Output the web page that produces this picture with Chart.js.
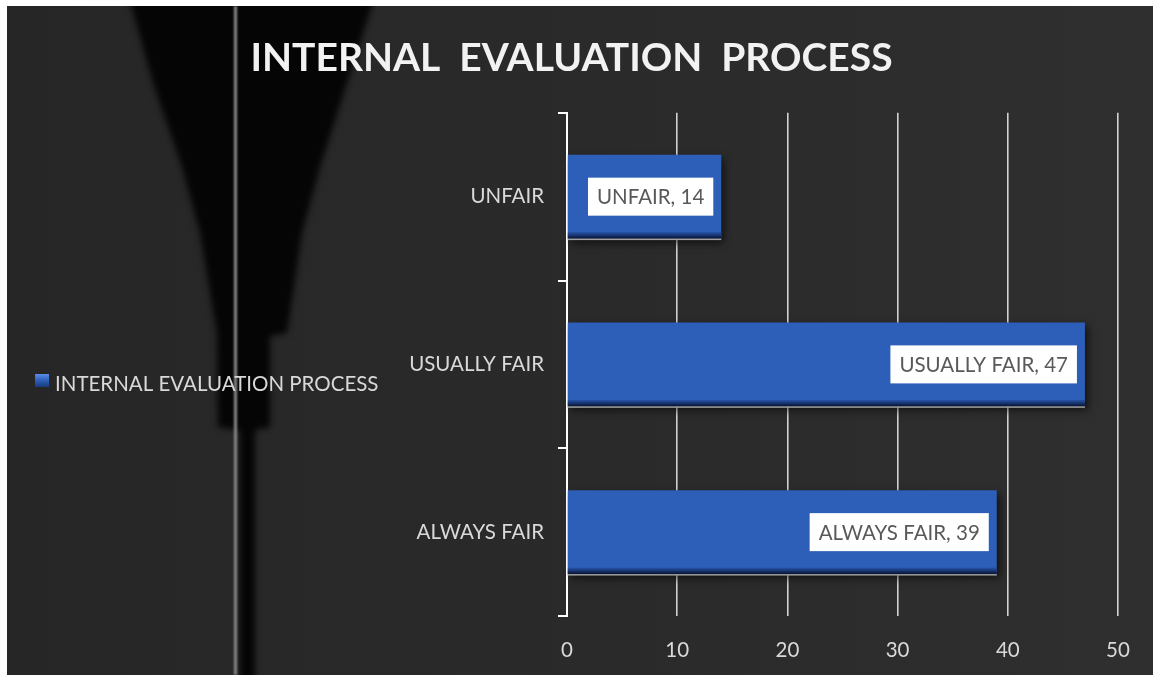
<!DOCTYPE html>
<html>
<head>
<meta charset="utf-8">
<script src="https://cdn.jsdelivr.net/npm/chart.js@4.4.1/dist/chart.umd.min.js"></script>
<style>
  html, body { margin: 0; padding: 0; background: #ffffff; width: 1153px; height: 675px; overflow: hidden; }
  #wrap { position: absolute; left: 7px; top: 6px; width: 1146px; height: 669px; }
</style>
</head>
<body>
<div id="wrap"><canvas id="c"></canvas></div>
<script>
const categories = ['UNFAIR', 'USUALLY FAIR', 'ALWAYS FAIR'];
const values = [14, 47, 39];
const seriesName = 'INTERNAL EVALUATION PROCESS';
const titleText = 'INTERNAL  EVALUATION  PROCESS';
const xTickValues = [0, 10, 20, 30, 40, 50];

const labelFont = { family: 'Lato', size: 20.5 };
const textColor = '#d9d9d9';
const barColor = '#2d5fb8';

const OX = 7, OY = 6; // canvas offset in page

const backgroundPlugin = {
  id: 'bgPlugin',
  beforeDraw(chart) {
    const ctx = chart.ctx;
    const w = chart.width, h = chart.height;
    ctx.save();
    const g = ctx.createLinearGradient(0, 0, w, 0);
    g.addColorStop(0, '#262626');
    g.addColorStop(0.5, '#2a2a2a');
    g.addColorStop(1, '#2f2f2f');
    ctx.fillStyle = g;
    ctx.fillRect(0, 0, w, h);
    ctx.filter = 'blur(3px)';
    ctx.fillStyle = '#050505';
    const pts = [[127, -10], [377, -10], [347, 83], [320, 167], [302, 233], [287, 333], [270, 336], [270, 427], [255, 430], [255, 690], [240, 690], [240, 430], [218, 427], [217, 333], [200, 233], [182, 167], [153, 83]];
    ctx.beginPath();
    pts.forEach((p, i) => {
      const x = p[0] - OX, y = p[1] - OY;
      if (i === 0) ctx.moveTo(x, y); else ctx.lineTo(x, y);
    });
    ctx.closePath();
    ctx.fill();
    ctx.filter = 'blur(1px)';
    ctx.fillStyle = '#8a8a8a';
    ctx.fillRect(234 - OX, 0, 3, h);
    ctx.filter = 'none';
    ctx.restore();
  }
};

const legendPlugin = {
  id: 'sideLegend',
  afterDraw(chart) {
    const ctx = chart.ctx;
    const ds = chart.data.datasets[0];
    ctx.save();
    const bx = 35 - OX, by = 374 - OY;
    const g = ctx.createLinearGradient(bx, by, bx, by + 13);
    g.addColorStop(0, '#5a8ee6');
    g.addColorStop(0.5, '#2d5fb8');
    g.addColorStop(1, '#1a3a7a');
    ctx.fillStyle = g;
    ctx.fillRect(bx, by, 14, 13);
    ctx.fillStyle = textColor;
    ctx.font = labelFont.size + 'px ' + labelFont.family;
    ctx.textBaseline = 'middle';
    ctx.textAlign = 'left';
    ctx.fillText(ds.label, 55 - OX, 384 - OY);
    ctx.restore();
  }
};

const barEffectsPlugin = {
  id: 'barEffects',
  beforeDatasetsDraw(chart) {
    const ctx = chart.ctx;
    ctx.save();
    ctx.shadowColor = 'rgba(0,0,0,0.6)';
    ctx.shadowBlur = 8;
    ctx.shadowOffsetX = 3;
    ctx.shadowOffsetY = 4;
  },
  afterDatasetsDraw(chart) {
    const ctx = chart.ctx;
    ctx.restore();
    const meta = chart.getDatasetMeta(0);
    ctx.save();
    meta.data.forEach((el, i) => {
      const left = el.base, right = el.x;
      const bottom = el.y + el.height / 2;
      const g = ctx.createLinearGradient(0, bottom - 7, 0, bottom);
      g.addColorStop(0, 'rgba(20,50,110,0)');
      g.addColorStop(0.4, '#1c3f85');
      g.addColorStop(1, '#06122e');
      ctx.fillStyle = g;
      ctx.fillRect(left, bottom - 7, right - left, 7);
      ctx.fillStyle = '#a0a0a0';
      ctx.fillRect(left, bottom, right - left, 1.5);
      const txt = categories[i] + ', ' + values[i];
      ctx.font = labelFont.size + 'px ' + labelFont.family;
      const tw = ctx.measureText(txt).width;
      const bw = tw + 18, bh = 38;
      const bx = right - 8 - bw, by = el.y - bh / 2;
      ctx.fillStyle = '#ffffff';
      ctx.fillRect(bx, by, bw, bh);
      ctx.fillStyle = '#595959';
      ctx.textBaseline = 'middle';
      ctx.textAlign = 'left';
      ctx.fillText(txt, bx + 9, el.y + 1);
    });
    ctx.restore();
  }
};

new Chart(document.getElementById('c'), {
  type: 'bar',
  data: {
    labels: categories,
    datasets: [{
      label: seriesName,
      data: values,
      backgroundColor: barColor,
      borderWidth: 0,
      categoryPercentage: 1.0,
      barPercentage: 0.5
    }]
  },
  options: {
    indexAxis: 'y',
    responsive: true,
    maintainAspectRatio: false,
    animation: false,
    layout: { padding: { left: 18, right: 35, top: 0, bottom: 0 } },
    plugins: {
      title: {
        display: true,
        text: titleText,
        color: '#f2f2f2',
        font: { family: 'Lato', size: 39, weight: 'bold', lineHeight: 1.2 },
        padding: { top: 29, bottom: 31 }
      },
      legend: { display: false },
      tooltip: { enabled: false }
    },
    scales: {
      x: {
        min: 0,
        max: 50,
        afterBuildTicks(scale) { scale.ticks = xTickValues.map(v => ({ value: v })); },
        afterFit(scale) { scale.height = 59; },
        ticks: { color: textColor, font: labelFont, padding: 22 },
        grid: { color: 'rgba(225,225,225,0.92)', lineWidth: 1.6, drawTicks: false },
        border: { display: false }
      },
      y: {
        afterFit(scale) { scale.width = 560 - 18; },
        ticks: { color: textColor, font: labelFont, padding: 14 },
        grid: { offset: true, drawOnChartArea: false, drawTicks: true, tickLength: 9, color: '#ffffff', lineWidth: 2 },
        border: { display: true, color: '#ffffff', width: 2 }
      }
    }
  },
  plugins: [backgroundPlugin, barEffectsPlugin, legendPlugin]
});
</script>
</body>
</html>
